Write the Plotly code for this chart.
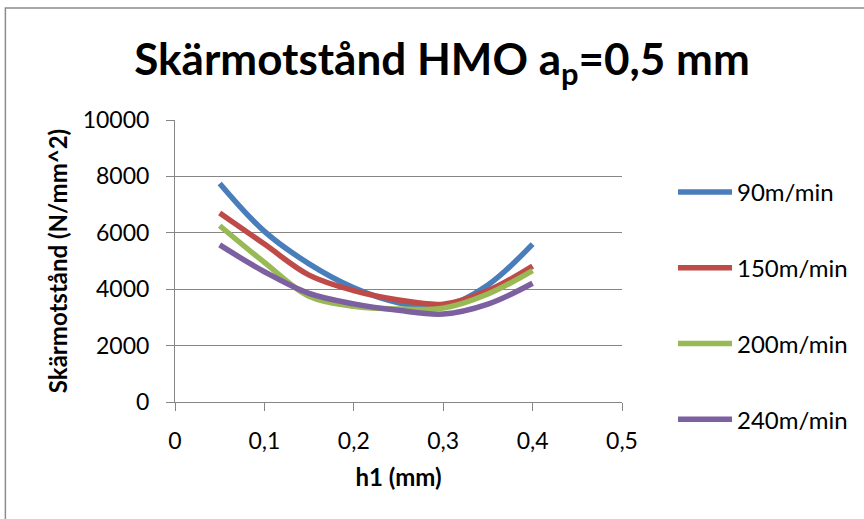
import plotly.graph_objects as go

# ---- data ----
h1 = [0.05, 0.1, 0.15, 0.2, 0.25, 0.3, 0.35, 0.4]
v90 = [7750, 6050, 4900, 4050, 3520, 3380, 4150, 5600]
v150 = [6700, 5600, 4500, 3950, 3620, 3470, 3950, 4820]
v200 = [6250, 4950, 3750, 3390, 3300, 3330, 3830, 4660]
v240 = [5570, 4620, 3850, 3480, 3250, 3120, 3470, 4210]
series_names = ["90m/min", "150m/min", "200m/min", "240m/min"]
series_vals = [v90, v150, v200, v240]
colors = ["#4A7EBB", "#BE4B48", "#98B954", "#7D60A0"]

x_tickvals = [0, 0.1, 0.2, 0.3, 0.4, 0.5]
x_ticktext = ["0", "0,1", "0,2", "0,3", "0,4", "0,5"]
y_tickvals = [0, 2000, 4000, 6000, 8000, 10000]
y_ticktext = ["0", "2000", "4000", "6000", "8000", "10000"]

FONT = "Lato, 'Open Sans', sans-serif"
GRID = "#868686"

fig = go.Figure()
for i, (name, vals, c) in enumerate(zip(series_names, series_vals, colors)):
    fig.add_trace(go.Scatter(
        x=h1, y=vals, name=name, mode="lines",
        line=dict(color=c, width=5.5, shape="spline", smoothing=1.0),
        legendgroup=f"g{i}",
    ))

W, H = 864, 519
L, R, T, B = 175, 241, 120, 117
pw, ph = W - L - R, H - T - B

def fx(px):
    return (px - L) / pw

def fy(py):
    return (H - B - py) / ph

fig.update_layout(
    width=W, height=H,
    margin=dict(l=L, r=R, t=T, b=B, pad=0),
    paper_bgcolor="white", plot_bgcolor="white",
    font=dict(family=FONT, size=23, color="black"),
    title=dict(
        text="<b>Skärmotstånd HMO a<sub>p</sub>=0,5 mm</b>",
        x=442 / W, xref="container", xanchor="center",
        y=1 - 60 / H, yref="container", yanchor="middle",
        font=dict(family=FONT, size=44, color="black"),
    ),
    xaxis=dict(
        range=[0, 0.5], tickvals=x_tickvals, ticktext=x_ticktext,
        showgrid=False, zeroline=False,
        showline=True, linecolor=GRID, linewidth=1,
        ticks="outside", ticklen=8, tickcolor=GRID, tickwidth=1,
        ticklabelstandoff=10,
        tickfont=dict(family=FONT, size=23, color="black"),
        title=dict(text="<b>h1 (mm)</b>", standoff=16,
                   font=dict(family=FONT, size=24, color="black")),
    ),
    yaxis=dict(
        range=[0, 10000], tickvals=y_tickvals, ticktext=y_ticktext,
        showgrid=True, gridcolor=GRID, gridwidth=1, zeroline=False,
        showline=True, linecolor=GRID, linewidth=1,
        ticks="outside", ticklen=8, tickcolor=GRID, tickwidth=1,
        ticklabelstandoff=12,
        tickfont=dict(family=FONT, size=23, color="black"),
        title=dict(text="<b>Skärmotstånd (N/mm^2)</b>", standoff=8,
                   font=dict(family=FONT, size=24, color="black")),
    ),
    legend=dict(
        x=fx(673), y=fy(170), xanchor="left", yanchor="top",
        traceorder="grouped", tracegroupgap=41.5, itemwidth=54,
        font=dict(family=FONT, size=24, color="black"),
        bgcolor="rgba(0,0,0,0)", borderwidth=0,
    ),
    shapes=[dict(
        type="rect", xref="paper", yref="paper",
        x0=fx(5), x1=fx(900), y0=fy(560), y1=fy(8),
        line=dict(color="#8C8C8C", width=1.5), fillcolor="rgba(0,0,0,0)",
        layer="below",
    )],
)

fig.write_html("out.html")
